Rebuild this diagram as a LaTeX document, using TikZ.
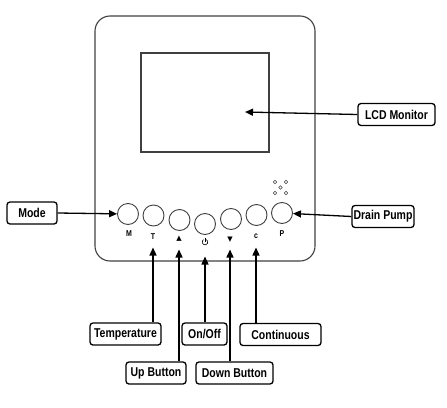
\documentclass[tikz,border=0pt]{standalone}
\usepackage{fontspec}
\setmainfont{Liberation Sans}[FakeStretch=0.82]
\newfontfamily\symfont{DejaVu Sans}
\usetikzlibrary{arrows.meta}
\begin{document}
\begin{tikzpicture}[x=1pt,y=-1pt,
  callout/.style={draw=black,line width=1.3pt,rounded corners=3pt,inner sep=0pt,
    minimum height=22pt,font=\bfseries\fontsize{12.8}{13}\selectfont,text=black},
  btn/.style={circle,draw=black!75,line width=0.9pt,minimum size=21pt,inner sep=0pt},
  blab/.style={font=\bfseries\fontsize{8.5}{9}\selectfont,inner sep=0pt},
  conn/.style={draw=black,line width=1.3pt,-{Triangle[length=8pt,width=7pt]}},
  shell/.style={draw=black!75,line width=1.1pt}
]
\useasboundingbox (0,0) rectangle (447,407);
% housing
\draw[shell,rounded corners=15pt] (95,16) rectangle (315,261);
\draw[shell] (141,53) rectangle (269,152);
% buttons
\node[btn] (bM) at (128,214) {};
\node[btn] (bT) at (153.5,215.5) {};
\node[btn] (bU) at (179.5,220) {};
\node[btn] (bO) at (205,224) {};
\node[btn] (bD) at (231,219) {};
\node[btn] (bC) at (256.5,215) {};
\node[btn] (bP) at (282,213) {};
% button labels
\node[blab] (lM) at (129,234) {M};
\node[blab] (lT) at (153,237) {T};
\node[blab,font=\symfont\fontsize{7}{7}\selectfont] (lU) at (179,239) {▲};
\node[blab,font=\symfont\fontsize{7}{7}\selectfont] (lD) at (230,240) {▼};
\node[blab] (lC) at (256,236) {c};
\node[blab] (lP) at (282,234) {P};
% power symbol
\draw[line width=0.6pt] (206.4,239.6) arc[start angle=-60,end angle=240,radius=2.8];
\draw[line width=0.6pt] (205,238.3) -- (205,242.2);
% speaker dots
\foreach \p in {(275,182),(286,182),(280.5,187.5),(275,193),(286,193)}
  \draw[black!75,line width=0.6pt] \p circle[radius=1.7pt];
% callouts
\node[callout,minimum width=50pt] (mode) at (32,213) {Mode};
\node[callout,minimum width=77pt] (lcd) at (396.5,114.5) {LCD Monitor};
\node[callout,minimum width=62pt] (drain) at (383,216.5) {Drain Pump};
\node[callout,minimum width=71pt] (temp) at (125.5,334) {Temperature};
\node[callout,minimum width=45pt] (onoff) at (204.5,334) {On/Off};
\node[callout,minimum width=81pt] (cont) at (280.5,334.5) {Continuous};
\node[callout,minimum width=60pt] (up) at (156,373) {Up Button};
\node[callout,minimum width=77pt] (down) at (234.5,373) {Down Button};
% arrow targets
\coordinate (tLCD) at (245,112);
\coordinate (tT) at (153,247.5);
\coordinate (tU) at (179,249.5);
\coordinate (tO) at (205,256.5);
\coordinate (tD) at (230,249.5);
\coordinate (tC) at (256,247.5);
% connectors
\draw[conn] (mode.east) -- (bM);
\draw[conn] (lcd.west) -- (tLCD);
\draw[conn] (drain.west) -- (bP);
\draw[conn] (temp.north -| tT) -- (tT);
\draw[conn] (up.north -| tU) -- (tU);
\draw[conn] (onoff.north -| tO) -- (tO);
\draw[conn] (down.north -| tD) -- (tD);
\draw[conn] (cont.north -| tC) -- (tC);
\end{tikzpicture}
\end{document}
